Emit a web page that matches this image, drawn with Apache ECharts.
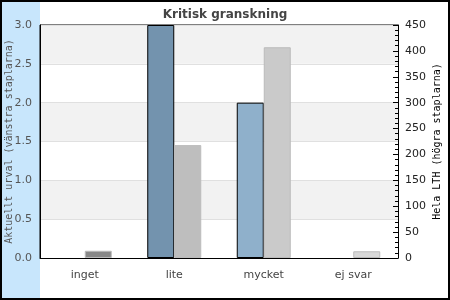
<!DOCTYPE html>
<html><head><meta charset="utf-8">
<script src="https://cdn.jsdelivr.net/npm/echarts@6/dist/echarts.min.js"></script>
<style>html,body{margin:0;padding:0;background:#fff}#c{width:450px;height:300px}</style>
</head><body><div id="c"></div>
<script>
const categories = ['inget', 'lite', 'mycket', 'ej svar'];
const leftValues = [0, 3, 2, 0];
const rightValues = [14, 218, 407, 13];
const leftColors = ['#7393ae', '#7393ae', '#8fb0cb', '#8fb0cb'];
const rightColors = ['#888888', '#bebebe', '#cacaca', '#d8d8d8'];
const leftTicks = { min: 0, max: 3, interval: 0.5 };
const rightTicks = { min: 0, max: 450, interval: 50 };

const chart = echarts.init(document.getElementById('c'));
chart.setOption({
  animation: false,
  backgroundColor: '#fff',
  graphic: [
    { type: 'rect', z: -10, shape: { x: 2, y: 2, width: 38, height: 296 }, style: { fill: '#c8e6fc' } },
    { type: 'rect', z: 100, shape: { x: 1, y: 1, width: 448, height: 298 }, style: { fill: null, stroke: '#000', lineWidth: 2 } }
  ],
  title: {
    text: 'Kritisk granskning', left: 'center', top: 4,
    textStyle: { fontFamily: 'DejaVu Sans', fontSize: 12, fontWeight: 'bold', color: '#444' }
  },
  grid: { left: 40, right: 52, top: 25, bottom: 42, containLabel: false, outerBoundsMode: 'none', show: true, borderColor: '#000', borderWidth: 1, backgroundColor: 'transparent' },
  xAxis: {
    type: 'category', data: categories,
    axisLine: { lineStyle: { color: '#000' } },
    axisTick: { show: false },
    axisLabel: { fontFamily: 'DejaVu Sans', fontSize: 11, color: '#444', margin: 12 }
  },
  yAxis: [
    {
      type: 'value', min: leftTicks.min, max: leftTicks.max, interval: leftTicks.interval,
      name: 'Aktuellt urval (vänstra staplarna)', nameLocation: 'middle', nameGap: 26, nameRotate: 90, nameMoveOverlap: false,
      nameTextStyle: { fontFamily: 'DejaVu Sans Mono', fontSize: 10, color: '#555' },
      axisLine: { show: true, lineStyle: { color: '#000' } },
      axisTick: { show: false },
      axisLabel: { fontFamily: 'DejaVu Sans', fontSize: 11, color: '#555', margin: 8, formatter: v => v.toFixed(1) },
      splitLine: { lineStyle: { color: '#e0e0e0' } },
      splitArea: { show: true, areaStyle: { color: ['#ffffff', '#f2f2f2'] } }
    },
    {
      type: 'value', position: 'right', min: rightTicks.min, max: rightTicks.max, interval: rightTicks.interval,
      name: 'Hela LTH (högra staplarna)', nameLocation: 'middle', nameGap: 34, nameRotate: 90, nameMoveOverlap: false,
      nameTextStyle: { fontFamily: 'DejaVu Sans Mono', fontSize: 10, color: '#000' },
      axisLine: { show: true, lineStyle: { color: '#000' } },
      axisTick: { show: true, inside: true, length: 5, lineStyle: { color: '#000' } },
      minorTick: { show: true, splitNumber: 5, length: 3, lineStyle: { color: '#000' } },
      axisLabel: { fontFamily: 'DejaVu Sans', fontSize: 11, color: '#222', margin: 7 },
      splitLine: { show: false }
    }
  ],
  series: [
    {
      type: 'bar', yAxisIndex: 0, barWidth: 27, barGap: '0%',
      data: leftValues.map((v, i) => ({ value: v, itemStyle: { color: leftColors[i], borderWidth: v === 0 ? 0 : 1 } })),
      itemStyle: { borderColor: '#000', borderWidth: 1 }
    },
    {
      type: 'bar', yAxisIndex: 1, barWidth: 27, barGap: '0%',
      data: rightValues.map((v, i) => ({ value: v, itemStyle: { color: rightColors[i] } })),
      itemStyle: { borderColor: '#bbbbbb', borderWidth: 1 }
    }
  ]
});
</script></body></html>
